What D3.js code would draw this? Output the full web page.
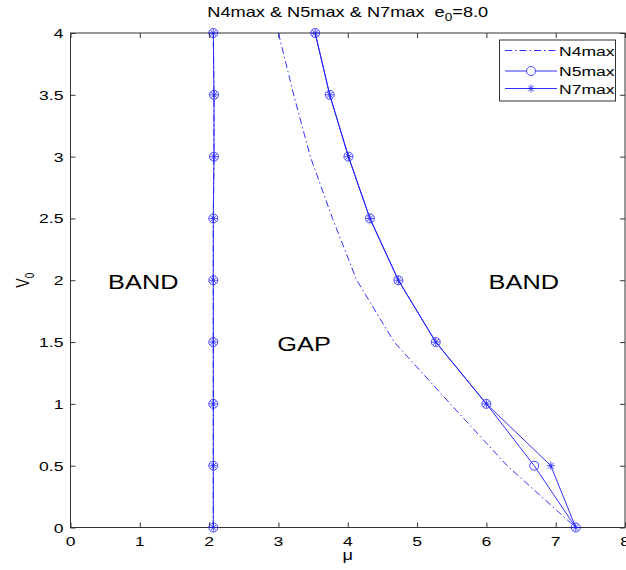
<!DOCTYPE html>
<html><head><meta charset="utf-8">
<script src="https://cdn.jsdelivr.net/npm/d3@7"></script>
<style>
html,body{margin:0;padding:0;background:#fff;}
svg{display:block;font-family:"Liberation Sans",Arial,sans-serif;}
</style></head>
<body>
<svg id="chart" width="626" height="570"></svg>
<script>
// ---- data ----
const V0 = [0, 0.5, 1, 1.5, 2, 2.5, 3, 3.5, 4];
const leftMu = [2.06, 2.06, 2.06, 2.06, 2.06, 2.06, 2.07, 2.07, 2.06];
const rightV = [4, 3.5, 3, 2.5, 2, 1.5, 1, 0.5, 0];
const n4Right = [3.0, 3.22, 3.46, 3.78, 4.13, 4.67, 5.48, 6.30, 7.29];
const n5Right = [3.53, 3.74, 4.01, 4.32, 4.73, 5.27, 6.0, 6.69, 7.29];
const n7Right = [3.53, 3.74, 4.01, 4.32, 4.73, 5.27, 6.0, 6.93, 7.29];
const xTicks = [0, 1, 2, 3, 4, 5, 6, 7, 8];
const yTicks = [0, 0.5, 1, 1.5, 2, 2.5, 3, 3.5, 4];
const yTickLabels = ["0", "0.5", "1", "1.5", "2", "2.5", "3", "3.5", "4"];
const seriesNames = ["N4max", "N5max", "N7max"];
const regionLabels = [
  {text: "BAND", mu: 1.05, v: 2.0},
  {text: "GAP", mu: 3.37, v: 1.5},
  {text: "BAND", mu: 6.54, v: 2.0}
];

// ---- layout ----
const svg = d3.select("#chart");
const L = 70.5, R = 625, T = 33, B = 527.5;
const x = d3.scaleLinear().domain([0, 8]).range([L, R]);
const y = d3.scaleLinear().domain([0, 4]).range([B, T]);
const SX = 1.3; // horizontal text stretch of the original raster
const blue = "#1a1aff";
const axisCol = "#333";

function txt(g, s, px, py, size, anchor) {
  const t = g.append("text")
    .attr("transform", `translate(${px},${py}) scale(${SX},1)`)
    .attr("font-size", size)
    .attr("text-anchor", anchor || "start")
    .attr("fill", "#000");
  t.text(s);
  return t;
}

// axes box
const ax = svg.append("g");
ax.append("rect").attr("x", L).attr("y", T).attr("width", R - L).attr("height", B - T)
  .attr("fill", "none").attr("stroke", axisCol).attr("stroke-width", 1);

// ticks via d3 axes (inward)
const xAxisB = d3.axisBottom(x).tickValues(xTicks).tickSize(-5).tickFormat("");
const xAxisT = d3.axisTop(x).tickValues(xTicks).tickSize(-5).tickFormat("");
const yAxisL = d3.axisLeft(y).tickValues(yTicks).tickSize(-5).tickFormat("");
const yAxisR = d3.axisRight(y).tickValues(yTicks).tickSize(-5).tickFormat("");
[[xAxisB, `translate(0,${B})`], [xAxisT, `translate(0,${T})`], [yAxisL, `translate(${L},0)`], [yAxisR, `translate(${R},0)`]]
  .forEach(([a, tr]) => {
    const g = svg.append("g").attr("transform", tr).call(a);
    g.select(".domain").remove();
    g.selectAll("line").attr("stroke", axisCol);
  });

// tick labels
const lab = svg.append("g");
xTicks.forEach(v => txt(lab, String(v), x(v), B + 18, 13.5, "middle"));
yTicks.forEach((v, i) => txt(lab, yTickLabels[i], L - 7, y(v) + 5, 13.5, "end"));

// axis labels
txt(lab, "μ", x(4), 560, 14, "middle");
const yl = svg.append("text")
  .attr("transform", `translate(29,${y(2)}) rotate(-90) scale(1,${SX})`)
  .attr("font-size", 14).attr("text-anchor", "middle");
yl.append("tspan").text("V");
yl.append("tspan").attr("font-size", 10).attr("dy", 4).text("0");

// title
const title = svg.append("text")
  .attr("transform", `translate(${(L + R) / 2},17) scale(${SX},1)`)
  .attr("font-size", 14).attr("text-anchor", "middle");
title.append("tspan").text("N4max & N5max & N7max\u00a0\u00a0e");
title.append("tspan").attr("font-size", 10.5).attr("dy", 4).text("0");
title.append("tspan").attr("dy", -4).text("=8.0");

// region labels
regionLabels.forEach(r => txt(lab, r.text, x(r.mu), y(r.v) + 9, 19.5, "middle"));

// ---- series ----
const plot = svg.append("g");
const line = d3.line().x(d => x(d[0])).y(d => y(d[1]));
const leftPts = V0.map((v, i) => [leftMu[i], v]);
const n4Pts = rightV.map((v, i) => [n4Right[i], v]);
const n5Pts = rightV.map((v, i) => [n5Right[i], v]);
const n7Pts = rightV.map((v, i) => [n7Right[i], v]);

function drawLine(pts, dash) {
  plot.append("path").datum(pts).attr("d", line).attr("fill", "none")
    .attr("stroke", blue).attr("stroke-width", 0.9)
    .attr("stroke-dasharray", dash || null);
}
const DASHDOT = "7,3,1.5,3";
drawLine(leftPts, DASHDOT);
drawLine(n4Pts, DASHDOT);
drawLine(leftPts);
drawLine(n5Pts);
drawLine(n7Pts);

function circles(pts) {
  plot.selectAll(null).data(pts).enter().append("circle")
    .attr("cx", d => x(d[0])).attr("cy", d => y(d[1])).attr("r", 4.5)
    .attr("fill", "none").attr("stroke", blue).attr("stroke-width", 0.8);
}
function stars(pts) {
  const s = 4;
  const g = plot.selectAll(null).data(pts).enter().append("g")
    .attr("transform", d => `translate(${x(d[0])},${y(d[1])})`);
  [[-s, 0, s, 0], [0, -s, 0, s], [-s * 0.7, -s * 0.7, s * 0.7, s * 0.7], [-s * 0.7, s * 0.7, s * 0.7, -s * 0.7]]
    .forEach(c => g.append("line").attr("x1", c[0]).attr("y1", c[1]).attr("x2", c[2]).attr("y2", c[3])
      .attr("stroke", blue).attr("stroke-width", 0.8));
}
circles(leftPts); circles(n5Pts);
stars(leftPts); stars(n7Pts);

// ---- legend ----
const lg = svg.append("g");
const lx = 499.5, ly = 40, lw = 116, lh = 61;
lg.append("rect").attr("x", lx).attr("y", ly).attr("width", lw).attr("height", lh)
  .attr("fill", "#fff").attr("stroke", axisCol).attr("stroke-width", 1);
const rowsY = [50.5, 71, 88.5];
seriesNames.forEach((name, i) => {
  const yy = rowsY[i];
  lg.append("line").attr("x1", 505).attr("x2", 557).attr("y1", yy).attr("y2", yy)
    .attr("stroke", blue).attr("stroke-width", 0.9)
    .attr("stroke-dasharray", i === 0 ? DASHDOT : null);
  if (i === 1) {
    lg.append("circle").attr("cx", 531).attr("cy", yy).attr("r", 4.5)
      .attr("fill", "#fff").attr("stroke", blue).attr("stroke-width", 0.8);
  }
  if (i === 2) {
    const s = 4;
    [[-s, 0, s, 0], [0, -s, 0, s], [-s * 0.7, -s * 0.7, s * 0.7, s * 0.7], [-s * 0.7, s * 0.7, s * 0.7, -s * 0.7]]
      .forEach(c => lg.append("line").attr("x1", 531 + c[0]).attr("y1", yy + c[1]).attr("x2", 531 + c[2]).attr("y2", yy + c[3])
        .attr("stroke", blue).attr("stroke-width", 0.8));
  }
  txt(lg, name, 559, yy + 5, 13.5, "start");
});
</script>
</body></html>
